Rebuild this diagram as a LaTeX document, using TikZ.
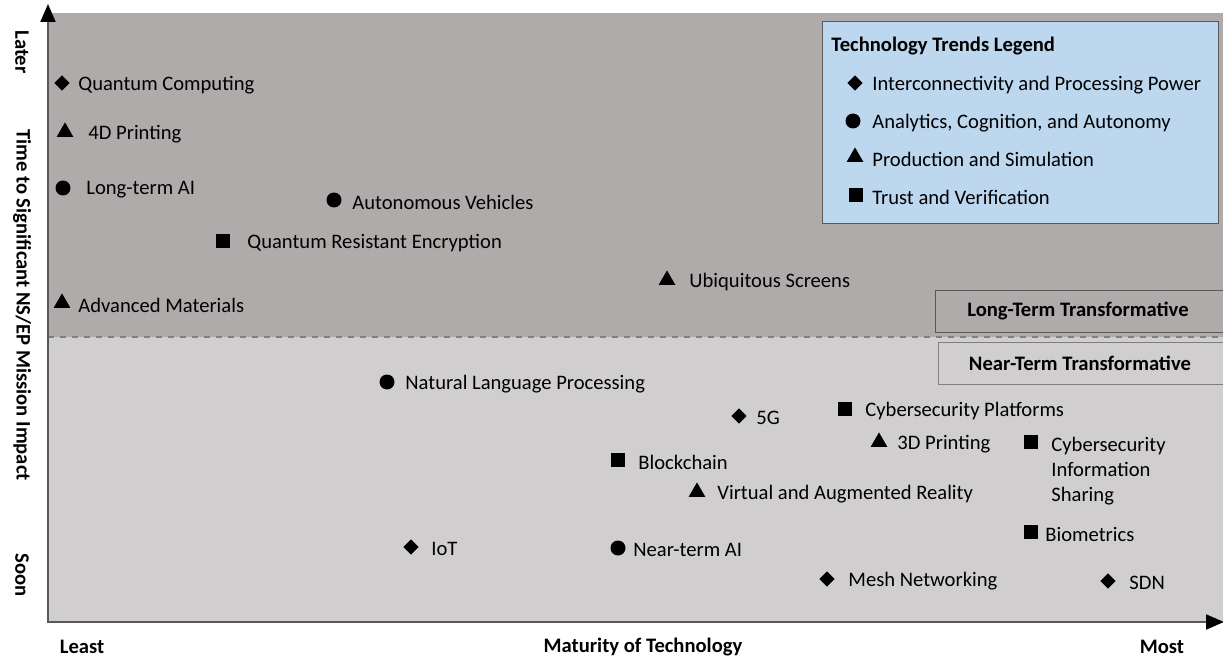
\documentclass[tikz,border=0pt]{standalone}
\usepackage{fontspec}
\setmainfont{Carlito}
\usepackage{xcolor}
\usepackage{tikz}
\usetikzlibrary{arrows.meta,shapes}

\definecolor{laterGray}{HTML}{AFABAB}
\definecolor{soonGray}{HTML}{D0CECE}
\definecolor{legendBlue}{HTML}{BDD7EE}
\definecolor{axisGray}{HTML}{595959}

\begin{document}
\begin{tikzpicture}[x=0.5pt,y=-0.5pt,font=\fontsize{10.3}{12.5}\selectfont,
    diam/.style={diamond,fill=black,inner sep=0pt,minimum size=7.8pt},
    dot/.style={circle,fill=black,inner sep=0pt,minimum size=7.5pt},
    tri/.style={regular polygon,regular polygon sides=3,fill=black,inner sep=0pt,minimum size=9.6pt},
    sq/.style={rectangle,fill=black,inner sep=0pt,minimum size=7pt},
    axis/.style={axisGray,line width=1pt,-{Triangle[color=black,length=9pt,width=7.5pt]}},
    axlabel/.style={font=\fontsize{10.3}{12.5}\selectfont\bfseries}]
        \newcommand\plotItem[6]{\node[#1] (#2) at (#3,#4) {}; \node[anchor=west,inner sep=0pt] (#2-l) at (#5,#4+2) {#6}}
        \useasboundingbox (0,0) rectangle (1223,658);
        \fill[laterGray] (48,13) rectangle (1223,337);
        \fill[soonGray] (48,337) rectangle (1223,622);
        \draw[gray,dashed,thick] (48,337) -- (1223,337);
        % axes
        \draw[axis] (48,622) -- (48,4);
        \draw[axis] (47,622) -- (1224,622);
        \node[axlabel,rotate=-90] (later) at (22,52) {Later};
        \node[axlabel,rotate=-90] (timeaxis) at (22,305) {Time to Significant NS/EP Mission Impact};
        \node[axlabel,rotate=-90] (soon) at (22,575) {Soon};
        \node[axlabel] (least) at (82,647) {Least};
        \node[axlabel] (maturity) at (643,647) {Maturity of Technology};
        \node[axlabel] (most) at (1162,647) {Most};
        % legend
        \draw[fill=legendBlue,draw=axisGray] (822,21) rectangle (1218,223);
        \node[anchor=west,inner sep=0pt,axlabel] (legend) at (831,46) {Technology Trends Legend};
        \plotItem{diam}{lgDiam}{855}{83}{872}{Interconnectivity and Processing Power};
        \plotItem{dot}{lgDot}{853}{121}{872}{Analytics, Cognition, and Autonomy};
        \plotItem{tri}{lgTri}{855}{157}{872}{Production and Simulation};
        \plotItem{sq}{lgSq}{856}{195}{872}{Trust and Verification};
        % zones
        \draw[fill=laterGray,draw=axisGray] (935,290) rectangle (1225,332);
        \node[axlabel] (longterm) at (1078,311) {Long-Term Transformative};
        \draw[fill=soonGray,draw=gray] (938,342) rectangle (1225,384);
        \node[axlabel] (nearterm) at (1080,363) {Near-Term Transformative};
        % later
        \plotItem{diam}{qc}{62}{83}{78}{Quantum Computing};
        \plotItem{tri}{fourd}{65}{132}{88}{4D Printing};
        \plotItem{dot}{ltai}{63}{188}{86}{Long-term AI};
        \plotItem{dot}{av}{334}{200}{352}{Autonomous Vehicles};
        \plotItem{sq}{qre}{223}{241}{247}{Quantum Resistant Encryption};
        \plotItem{tri}{us}{667}{280}{689}{Ubiquitous Screens};
        \plotItem{tri}{am}{62}{303}{78}{Advanced Materials};
        % soon
        \plotItem{dot}{nlp}{387}{382}{405}{Natural Language Processing};
        \plotItem{diam}{fiveg}{739}{416}{756}{5G};
        \plotItem{sq}{csp}{845}{409}{865}{Cybersecurity Platforms};
        \plotItem{tri}{threed}{879}{442}{897}{3D Printing};
        \node[sq] (cis) at (1031,442) {};
        \node[anchor=north west,inner sep=0pt,align=left] (cis-l) at (1051,437) {Cybersecurity\\Information\\Sharing};
        \plotItem{sq}{bc}{618}{460}{638}{Blockchain};
        \plotItem{tri}{var}{697}{492}{717}{Virtual and Augmented Reality};
        \plotItem{sq}{bio}{1031}{532}{1045}{Biometrics};
        \plotItem{diam}{iot}{411}{547}{431}{IoT};
        \plotItem{dot}{ntai}{618}{548}{633}{Near-term AI};
        \plotItem{diam}{mesh}{827}{579}{848}{Mesh Networking};
        \plotItem{diam}{sdn}{1108}{581}{1129}{SDN};
\end{tikzpicture}
\end{document}
